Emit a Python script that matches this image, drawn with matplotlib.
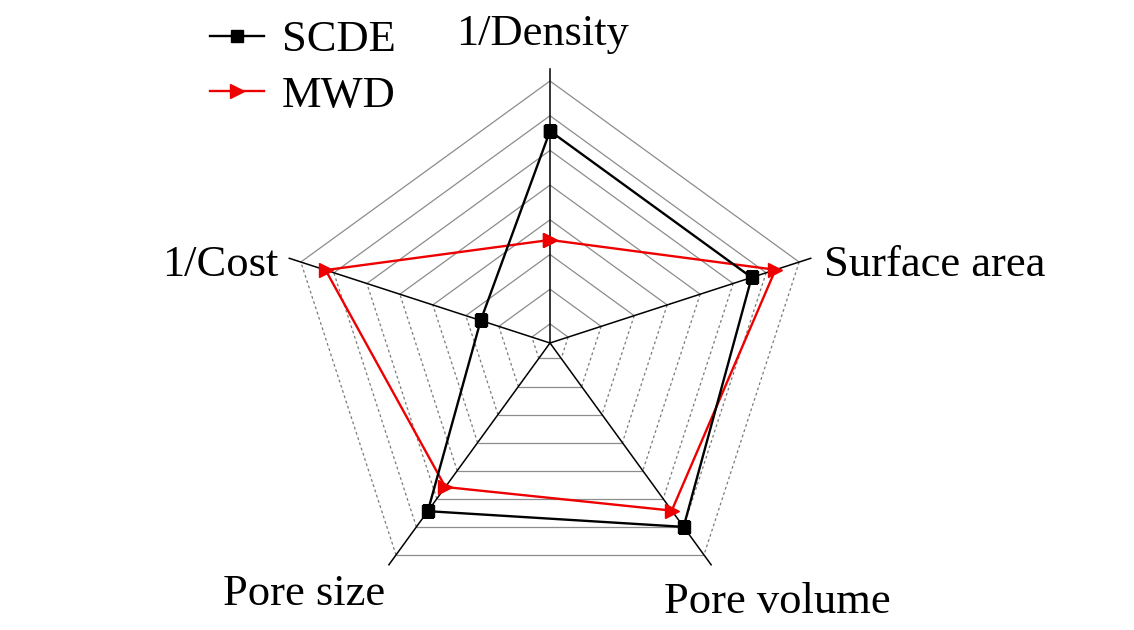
import numpy as np
import matplotlib
matplotlib.use("Agg")
import matplotlib.pyplot as plt

axes_labels = ["1/Density", "Surface area", "Pore volume", "Pore size", "1/Cost"]
scde = [6.56, 6.56, 7.0, 6.44, 2.55]
mwd = [3.42, 7.28, 6.42, 5.58, 7.25]
levels = [1, 2, 3, 4, 5, 6, 7, 8]

W, H = 1134, 630
fig = plt.figure(figsize=(W / 100, H / 100), dpi=100)
cx, cy, R = 550, 343, 280
ax = fig.add_axes([(cx - R) / W, 1 - (cy + R) / H, 2 * R / W, 2 * R / H], projection="polar")
r0 = 0.45
px_per_unit = 34.7
ax.set_ylim(r0, r0 + R / px_per_unit)
ax.set_theta_zero_location("N")
ax.set_theta_direction(-1)
ax.axis("off")

n = len(axes_labels)
theta = np.deg2rad(np.arange(n) * 360.0 / n)

# grid polygons (sector i lies between axis i and axis i+1)
solid_sectors = {0, 2, 4}
for lv in levels:
    for i in range(n):
        j = (i + 1) % n
        t = [theta[i], theta[j] if j != 0 else 2 * np.pi]
        if i in solid_sectors:
            ax.plot(t, [lv, lv], color="#8c8c8c", lw=0.9, solid_capstyle="butt", zorder=1)
        else:
            ax.plot(t, [lv, lv], color="#7a7a7a", lw=0.9, linestyle=(0, (2.2, 2.2)), zorder=1)

# axis spokes
for i in range(n):
    ax.plot([theta[i], theta[i]], [r0, 8.35], color="black", lw=1.1, zorder=2)

tc = np.concatenate([theta, theta[:1]])
ax.plot(tc, scde + scde[:1], color="black", lw=1.7, marker="s", ms=8,
        label="SCDE", zorder=4)
ax.plot(tc, mwd + mwd[:1], color="#ee0000", lw=1.7, marker=">", ms=10,
        label="MWD", zorder=3)

fs = 32
font = dict(family="Liberation Serif", size=fs)
label_pos = [(543, 45, "center"), (824, 276, "left"), (777, 613, "center"),
             (304, 605, "center"), (279, 276, "right")]
for lab, (x, y, ha) in zip(axes_labels, label_pos):
    fig.text(x / W, 1 - y / H, lab, ha=ha, va="baseline", **font)

leg = fig.legend(loc="upper left", bbox_to_anchor=(210 / W, 1 - 20 / H), frameon=False,
                 prop=dict(family="Liberation Serif", size=fs), handlelength=1.22,
                 handletextpad=0.4, labelspacing=0.35, borderaxespad=0, borderpad=0)

fig.savefig("out.png", dpi=100)
